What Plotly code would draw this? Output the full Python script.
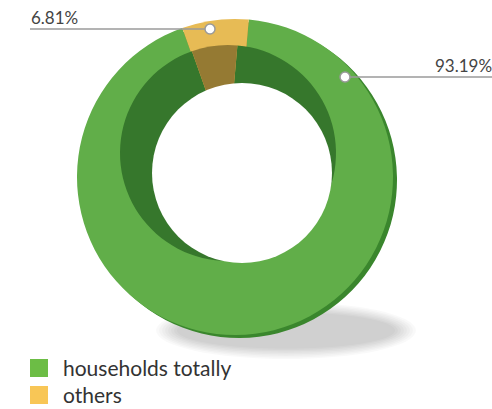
import plotly.graph_objects as go

categories = ["households totally", "others"]
values = [93.19, 6.81]
face_colors = ["#61ae49", "#e7bb55"]
wall_colors = ["#36772c", "#957a33"]
legend_colors = ["#6cbd45", "#f8c656"]
percent_labels = [f"{v:.2f}%" for v in values]

W, H = 492, 409
FONT = "Lato"


def dom(cx, cy, r):
    return dict(x=[(cx - r) / W, (cx + r) / W], y=[1 - (cy + r) / H, 1 - (cy - r) / H])


def px(x):
    return x / W


def py(y):
    return 1 - y / H


fig = go.Figure()

common = dict(labels=categories, values=values, sort=False, direction="clockwise",
              rotation=5, textinfo="none", hoverinfo="label+percent",
              showlegend=False, marker_line_width=0)

# side rim (3D thickness)
fig.add_trace(go.Pie(**common, domain=dom(239, 180, 158),
                     marker_colors=["#3a862d", "#b08b33"]))
# top face
fig.add_trace(go.Pie(**common, domain=dom(235, 177, 158), marker_colors=face_colors))
# inner wall
fig.add_trace(go.Pie(**common, domain=dom(228, 153, 108), marker_colors=wall_colors))

shapes = []
# soft shadow (stacked translucent ellipses)
for k in range(8):
    g = 8 - k
    shapes.append(dict(type="circle", xref="paper", yref="paper", layer="below",
                       x0=px(180 - 3 * g), x1=px(392 + 3 * g),
                       y0=py(347 + 1.5 * g), y1=py(314 - 1.5 * g),
                       fillcolor="rgba(0,0,0,0.025)", line_width=0))
# hole
shapes.append(dict(type="circle", xref="paper", yref="paper", layer="above",
                   x0=px(242 - 90), x1=px(242 + 90), y0=py(173 + 90), y1=py(173 - 90),
                   fillcolor="white", line_width=0))

# leader lines and dots
leaders = [((30, 29), (210, 29)), ((492, 77), (345, 77))]
for (x0, y0), (x1, y1) in leaders:
    shapes.append(dict(type="line", xref="paper", yref="paper", layer="above",
                       x0=px(x0), x1=px(x1), y0=py(y0), y1=py(y1),
                       line=dict(color="#9a9a9a", width=1.5)))
    shapes.append(dict(type="circle", xref="paper", yref="paper", layer="above",
                       x0=px(x1 - 5), x1=px(x1 + 5), y0=py(y1 + 5), y1=py(y1 - 5),
                       fillcolor="white", line=dict(color="#9a9a9a", width=1.5)))

annotations = [
    dict(text=percent_labels[1], x=px(29), y=py(17), xanchor="left", yanchor="middle"),
    dict(text=percent_labels[0], x=px(494), y=py(66), xanchor="right", yanchor="middle"),
]
for a in annotations:
    a.update(xref="paper", yref="paper", showarrow=False,
             font=dict(size=17, color="#444444", family=FONT))

# legend
for i, (cat, col) in enumerate(zip(categories, legend_colors)):
    yc = 368 + 27 * i
    shapes.append(dict(type="rect", xref="paper", yref="paper", layer="above",
                       x0=px(30), x1=px(48), y0=py(yc + 9), y1=py(yc - 9),
                       fillcolor=col, line_width=0))
    annotations.append(dict(text=cat, x=px(61), y=py(yc - 1), xanchor="left", yanchor="middle",
                            xref="paper", yref="paper", showarrow=False,
                            font=dict(size=21, color="#333333", family=FONT)))

fig.update_layout(
    autosize=True, margin=dict(l=0, r=0, t=0, b=0),
    paper_bgcolor="white", plot_bgcolor="white",
    shapes=shapes, annotations=annotations, showlegend=False,
)

fig.write_html("out.html", default_width="100vw", default_height="100vh",
               config={"responsive": True, "displayModeBar": False})
with open("out.html") as f:
    html = f.read()
html = html.replace("<head>", "<head><style>html,body{margin:0;padding:0;overflow:hidden}</style>", 1)
with open("out.html", "w") as f:
    f.write(html)
